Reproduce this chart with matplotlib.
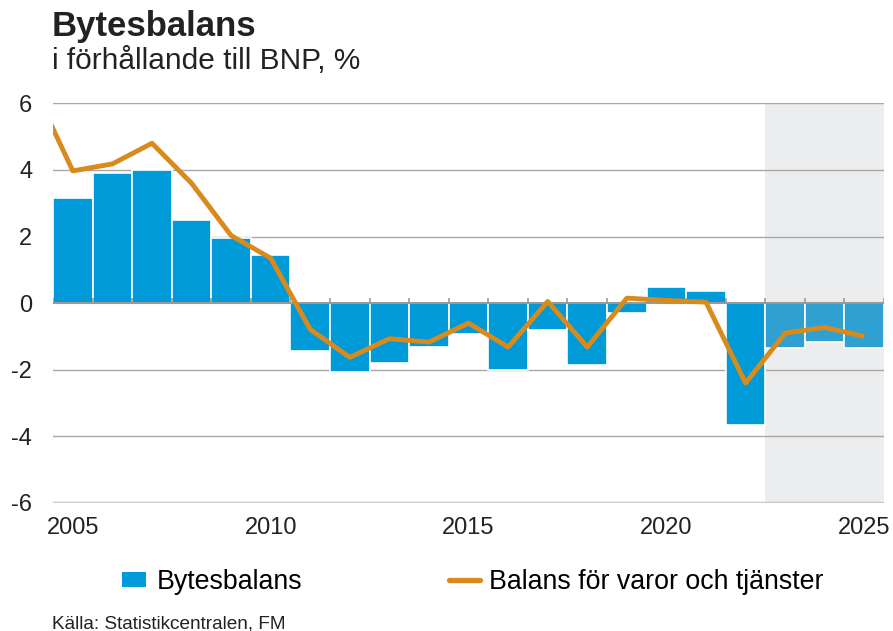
import numpy as np
import matplotlib.pyplot as plt
from matplotlib.patches import Patch
from matplotlib.lines import Line2D

plt.rcParams['font.family'] = ['Liberation Sans', 'DejaVu Sans']

# data
years = list(range(2005, 2026))
bytesbalans = [3.17, 3.90, 4.00, 2.50, 1.96, 1.45, -1.43, -2.07, -1.80, -1.33,
               -0.93, -2.00, -0.80, -1.85, -0.30, 0.48, 0.37, -3.65, -1.36, -1.18, -1.35]
line_years = list(range(2004, 2026))
varor_tjanster = [6.5, 3.97, 4.18, 4.80, 3.60, 2.03, 1.35, -0.79, -1.63, -1.07, -1.17,
                  -0.60, -1.32, 0.05, -1.32, 0.15, 0.08, 0.03, -2.40, -0.90, -0.73, -1.00]
forecast_from = 2023
yticks = [-6, -4, -2, 0, 2, 4, 6]
xticks = [2005, 2010, 2015, 2020, 2025]

blue = '#009ad9'
blue_fc = '#2ea0d2'
orange = '#d98a1c'
txt = '#222222'

fig = plt.figure(figsize=(8.93, 6.31), dpi=100)
ax = fig.add_axes([0.0594, 0.2029, 0.9306, 0.6334])

x0, x1 = years[0] - 0.5, years[-1] + 0.5
ax.axvspan(forecast_from - 0.5, x1, color='#ecedee', zorder=0, lw=0)

for y in yticks:
    if y in (0, -6):
        continue
    ax.axhline(y, color='#a8a8a8', lw=1.0, zorder=1)
ax.axhline(-6, color='#c8c8c8', lw=2.5, zorder=1)

colors = [blue if yr < forecast_from else blue_fc for yr in years]
ax.bar(years, bytesbalans, width=1.0, color=colors, edgecolor='white', lw=1.2, zorder=2)

# zero line with small ticks at bar edges
ax.axhline(0, color='#999999', lw=1.5, zorder=3)
edges = np.arange(x0, x1 + 0.01, 1.0)
ax.vlines(edges, 0, 0.15, color='#999999', lw=1.2, zorder=3)

ax.plot(line_years, varor_tjanster, color=orange, lw=3.5, zorder=4,
        solid_joinstyle='round', solid_capstyle='butt')

ax.set_xlim(x0, x1)
ax.set_ylim(-6, 6)
for s in ax.spines.values():
    s.set_visible(False)
ax.set_yticks(yticks)
ax.set_yticklabels([str(v) for v in yticks])
ax.set_xticks(xticks)
ax.set_xticklabels([str(v) for v in xticks])
ax.tick_params(axis='y', length=0, pad=15, labelsize=17, labelcolor=txt)
ax.tick_params(axis='x', length=0, pad=10, labelsize=17, labelcolor=txt)

fig.text(52 / 893, 1 - 36 / 631, 'Bytesbalans', fontsize=25, fontweight='bold',
         va='baseline', ha='left', color=txt)
fig.text(52 / 893, 1 - 69 / 631, 'i förhållande till BNP, %', fontsize=21.5,
         va='baseline', ha='left', color=txt)

leg_y = 1 - 582 / 631
fig.legend([Patch(facecolor=blue, edgecolor='none')], ['Bytesbalans'],
           loc='center left', bbox_to_anchor=(122 / 893, leg_y),
           frameon=False, fontsize=19.3, handlelength=0.9, handleheight=0.45,
           handletextpad=0.4, borderpad=0, borderaxespad=0)
fig.legend([Line2D([0], [0], color=orange, lw=3.8, solid_capstyle='round')],
           ['Balans för varor och tjänster'],
           loc='center left', bbox_to_anchor=(449 / 893, leg_y),
           frameon=False, fontsize=19.3, handlelength=1.15,
           handletextpad=0.35, borderpad=0, borderaxespad=0)

fig.text(52 / 893, 1 - 624 / 631, 'Källa: Statistikcentralen, FM', fontsize=13.7,
         va='center', ha='left', color=txt)

fig.savefig('out.png', dpi=100)
